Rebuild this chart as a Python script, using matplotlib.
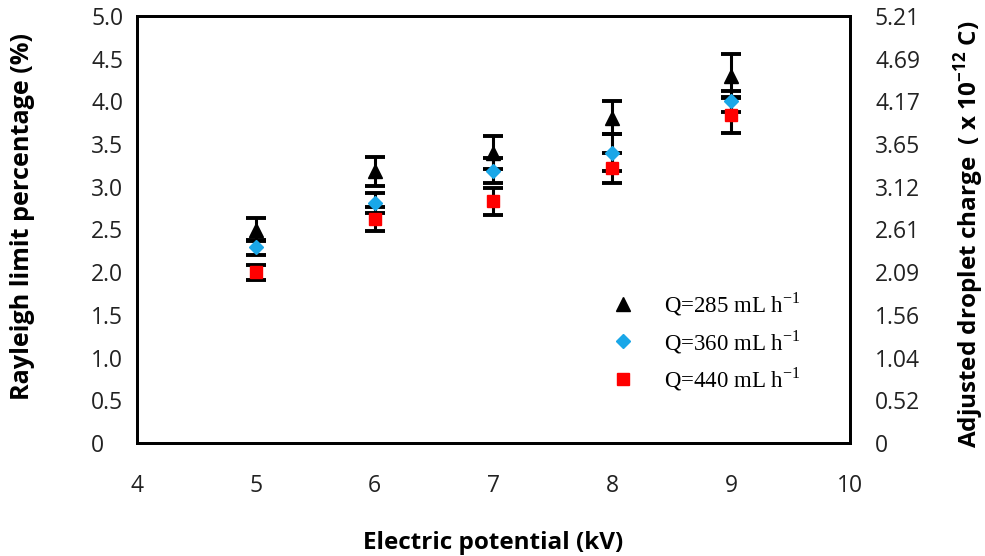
import numpy as np
import matplotlib
matplotlib.use('Agg')
import matplotlib.pyplot as plt

# data
voltage = [5, 6, 7, 8, 9]

q285 = [2.50, 3.18, 3.40, 3.81, 4.30]
q285_err = [0.14, 0.17, 0.19, 0.19, 0.26]

q360 = [2.29, 2.81, 3.19, 3.40, 4.00]
q360_err = [0.09, 0.12, 0.15, 0.22, 0.12]

q440 = [2.00, 2.62, 2.83, 3.22, 3.84]
q440_err = [0.09, 0.14, 0.16, 0.17, 0.21]

left_ticks = [0, 0.5, 1.0, 1.5, 2.0, 2.5, 3.0, 3.5, 4.0, 4.5, 5.0]
left_labels = ['0', '0.5', '1.0', '1.5', '2.0', '2.5', '3.0', '3.5', '4.0', '4.5', '5.0']
right_labels = ['0', '0.52', '1.04', '1.56', '2.09', '2.61', '3.12', '3.65', '4.17', '4.69', '5.21']
x_ticks = [4, 5, 6, 7, 8, 9, 10]

plt.rcParams['font.family'] = ['Open Sans', 'DejaVu Sans']

fig = plt.figure(figsize=(9.85, 5.56), dpi=100)
ax = fig.add_axes([137 / 985, 1 - 443 / 556, (850 - 137) / 985, (443 - 16) / 556])

ebar = dict(fmt='none', ecolor='black', elinewidth=2.2, capsize=7, capthick=2.8, zorder=2)
ax.errorbar(voltage, q285, yerr=q285_err, **ebar)
ax.errorbar(voltage, q360, yerr=q360_err, **ebar)
ax.errorbar(voltage, q440, yerr=q440_err, **ebar)

h1, = ax.plot(voltage, q285, linestyle='none', marker='^', markersize=9.5, color='black', zorder=3)
h2, = ax.plot(voltage, q360, linestyle='none', marker='D', markersize=7, color='#1aa7e8', zorder=3)
h3, = ax.plot(voltage, q440, linestyle='none', marker='s', markersize=9, color='#ff0000', zorder=3)

ax.set_xlim(4, 10)
ax.set_ylim(0, 5.0)
ax.set_xticks(x_ticks)
ax.set_xticklabels([str(v) for v in x_ticks])
ax.set_yticks(left_ticks)
ax.set_yticklabels(left_labels)
ax.tick_params(length=0, labelsize=16.5, colors='#222222')
ax.tick_params(axis='y', pad=33)
ax.tick_params(axis='x', pad=22)
for t in ax.get_yticklabels():
    t.set_horizontalalignment('left')
for sp in ax.spines.values():
    sp.set_linewidth(2)

ax.set_xlabel('Electric potential (kV)', fontsize=17.5, fontweight='bold', labelpad=24)
ax.set_ylabel('Rayleigh limit percentage (%)', fontsize=18.2, fontweight='bold')
ax.yaxis.set_label_coords(-0.143, 0.53)

ax2 = ax.twinx()
ax2.set_ylim(0, 5.0)
ax2.set_yticks(left_ticks)
ax2.set_yticklabels(right_labels)
ax2.tick_params(length=0, labelsize=16.5, colors='#222222', pad=18)
ax2.set_ylabel('Adjusted droplet charge  ( x 10$^{\\mathregular{-12}}$ C)',
               fontsize=17.5, fontweight='bold')
ax2.yaxis.set_label_coords(1.143, 0.49)
for sp in ax2.spines.values():
    sp.set_linewidth(2)

leg = ax.legend([h1, h2, h3],
                ['Q=285 mL h$^{\\mathregular{-1}}$', 'Q=360 mL h$^{\\mathregular{-1}}$',
                 'Q=440 mL h$^{\\mathregular{-1}}$'],
                loc='upper left', bbox_to_anchor=(0.62, 0.405), frameon=False,
                prop={'family': 'Liberation Serif', 'size': 16.5},
                handletextpad=0.8, labelspacing=0.42)

fig.savefig('out.png', dpi=100)
